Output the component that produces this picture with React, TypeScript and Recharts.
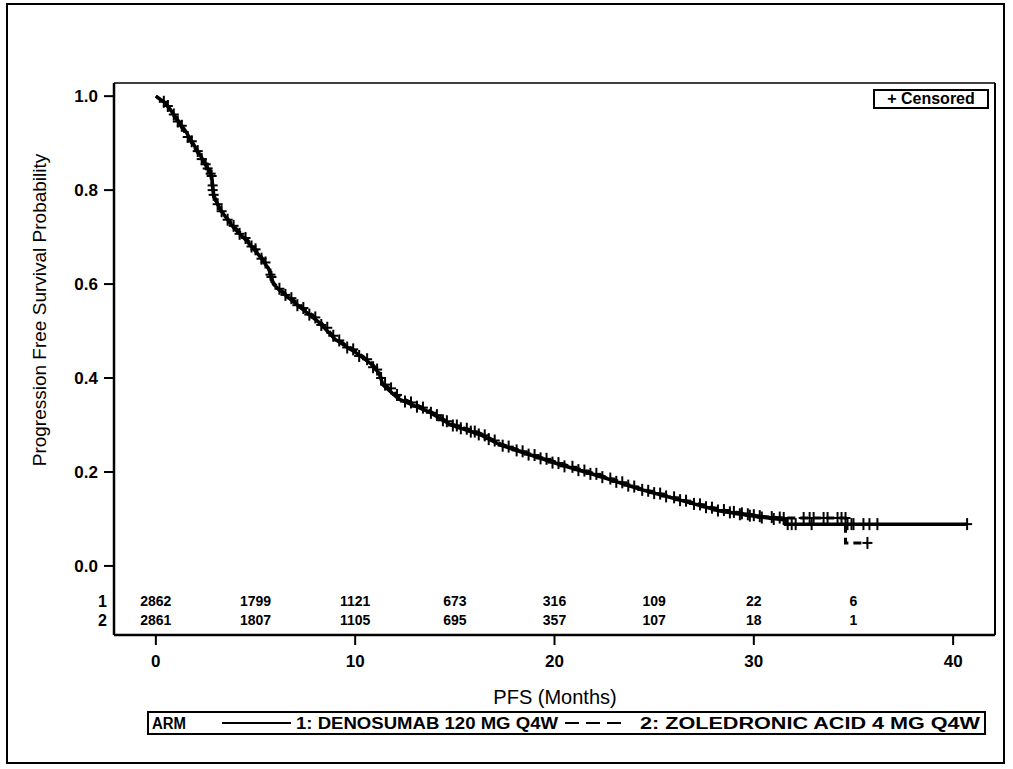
import { ComposedChart, Line, Scatter, XAxis, YAxis, ReferenceLine } from "recharts"

const FONT = '"Liberation Sans", Arial, Helvetica, sans-serif'

const armLabels = ["1: DENOSUMAB 120 MG Q4W", "2: ZOLEDRONIC ACID 4 MG Q4W"]
const xTicks = [0, 10, 20, 30, 40]
const yTicks = [0, 0.2, 0.4, 0.6, 0.8, 1.0]

// number at risk
const riskTimes = [0, 5, 10, 15, 20, 25, 30, 35]
const riskArm1 = [2862, 1799, 1121, 673, 316, 109, 22, 6]
const riskArm2 = [2861, 1807, 1105, 695, 357, 107, 18, 1]

// KM curves [months, survival]
const curveArm1: [number, number][] = [
  [0, 1.0], [0.5, 0.985], [1.0, 0.955], [1.5, 0.925], [2.0, 0.89], [2.5, 0.855],
  [2.8, 0.83], [2.9, 0.79], [3.2, 0.76], [3.9, 0.72], [4.6, 0.69], [5.2, 0.66],
  [5.7, 0.63], [5.9, 0.6], [6.2, 0.587], [7.2, 0.552], [8.2, 0.518], [9.0, 0.482],
  [10.0, 0.455], [10.8, 0.43], [11.2, 0.41], [11.4, 0.385], [12.2, 0.355],
  [13.7, 0.328], [14.8, 0.3], [16.3, 0.279], [17.3, 0.257], [18.8, 0.236],
  [20.3, 0.215], [22.3, 0.19], [24.3, 0.163], [26.3, 0.14], [28.3, 0.117],
  [30.3, 0.104], [31.6, 0.098], [31.6, 0.089], [40.7, 0.089],
]
const curveArm2: [number, number][] = [
  [0, 1.0], [0.5, 0.983], [1.0, 0.952], [1.5, 0.92], [2.0, 0.886], [2.5, 0.852],
  [2.75, 0.835], [2.9, 0.785], [3.3, 0.755], [3.9, 0.724], [4.6, 0.694], [5.2, 0.664],
  [5.6, 0.64], [5.85, 0.605], [6.2, 0.59], [7.2, 0.556], [8.2, 0.522], [9.0, 0.485],
  [10.0, 0.458], [10.8, 0.433], [11.2, 0.413], [11.4, 0.39], [12.2, 0.36],
  [13.7, 0.331], [14.8, 0.303], [16.3, 0.282], [17.3, 0.26], [18.8, 0.238],
  [20.3, 0.218], [22.3, 0.193], [24.3, 0.165], [26.3, 0.142], [28.3, 0.12],
  [30.3, 0.106], [31.5, 0.102], [34.6, 0.102], [34.6, 0.049], [35.7, 0.049],
]

// censored observations [months, survival]
const censorArm1: [number, number][] = [
  [0.4, 0.988], [0.9, 0.961], [1.3, 0.937], [1.8, 0.904], [2.1, 0.883], [2.5, 0.855],
  [2.8, 0.83], [2.85, 0.81], [2.9, 0.79], [3.1, 0.77], [3.6, 0.737], [4.2, 0.707],
  [4.8, 0.68], [5.3, 0.654], [5.8, 0.615], [6.5, 0.577], [7.1, 0.555], [7.7, 0.535],
  [8.3, 0.513], [8.9, 0.49], [9.6, 0.465], [10.2, 0.447], [10.9, 0.423], [11.3, 0.4],
  [11.8, 0.378], [12.5, 0.35], [13.1, 0.339], [13.8, 0.326], [14.4, 0.31], [14.9, 0.299],
  [15.3, 0.293], [15.8, 0.286], [16.2, 0.28], [16.7, 0.27], [17.4, 0.256], [18.1, 0.246],
  [18.7, 0.237], [19.3, 0.229], [19.9, 0.22], [20.5, 0.212], [21.2, 0.204], [21.8, 0.196],
  [22.4, 0.189], [23.1, 0.179], [23.7, 0.171], [24.4, 0.162], [25.0, 0.155], [25.6, 0.148],
  [26.3, 0.14], [27.0, 0.132], [27.6, 0.125], [28.2, 0.118], [28.8, 0.114], [29.3, 0.11],
  [29.8, 0.107], [30.4, 0.103], [31.0, 0.1], [31.7, 0.089], [31.9, 0.089], [32.1, 0.089],
  [32.9, 0.089], [34.7, 0.089], [34.9, 0.089], [35.0, 0.089], [35.5, 0.089], [35.8, 0.089],
  [36.2, 0.089], [40.7, 0.089],
]
const censorArm2: [number, number][] = [
  [0.6, 0.979], [1.1, 0.946], [1.6, 0.913], [2.3, 0.866], [2.6, 0.846], [2.75, 0.835],
  [2.85, 0.8], [3.3, 0.755], [3.9, 0.724], [4.5, 0.698], [5.0, 0.674], [5.5, 0.646],
  [5.75, 0.62], [6.2, 0.59], [6.8, 0.57], [7.4, 0.549], [8.0, 0.529], [8.6, 0.507],
  [9.2, 0.48], [9.9, 0.461], [10.6, 0.44], [11.1, 0.418], [11.5, 0.386], [12.1, 0.364],
  [12.8, 0.348], [13.4, 0.337], [14.1, 0.321], [14.6, 0.308], [15.1, 0.299], [15.6, 0.292],
  [16.0, 0.286], [16.5, 0.278], [17.0, 0.267], [17.7, 0.254], [18.4, 0.244], [19.0, 0.236],
  [19.6, 0.228], [20.2, 0.219], [20.9, 0.211], [21.5, 0.203], [22.1, 0.196], [22.8, 0.186],
  [23.4, 0.178], [24.0, 0.169], [24.7, 0.16], [25.3, 0.154], [26.0, 0.146], [26.6, 0.139],
  [27.3, 0.131], [27.9, 0.124], [28.5, 0.119], [29.0, 0.115], [29.4, 0.112], [29.7, 0.11],
  [30.0, 0.108], [30.3, 0.106], [30.9, 0.104], [31.3, 0.103], [31.5, 0.102], [32.5, 0.102],
  [32.8, 0.102], [33.0, 0.102], [33.5, 0.102], [33.7, 0.102], [34.2, 0.102], [34.4, 0.102],
  [34.6, 0.102], [35.7, 0.049],
]

const X_DOMAIN: [number, number] = [-2.1, 42.1]
const Y_DOMAIN: [number, number] = [-0.147, 1.028]
// vertical placement of the two at-risk rows (in y-axis units, below 0)
const ROW_Y = [-0.0745, -0.115]

const toPts = (arr: [number, number][]) => arr.map(([t, s]) => ({ t, s }))
const riskData = (counts: number[], row: number) =>
  riskTimes.map((t, i) => ({ t, s: ROW_Y[row], n: counts[i] }))

const CensorMark = (props: any) => {
  const { cx, cy } = props
  if (cx == null || cy == null) return null
  return (
    <g stroke="#000" strokeWidth={2}>
      <line x1={cx} x2={cx} y1={cy - 6} y2={cy + 6} />
      <line x1={cx - 5} x2={cx + 5} y1={cy} y2={cy} />
    </g>
  )
}

const RiskText = (props: any) => {
  const { cx, cy, payload } = props
  return (
    <text x={cx} y={cy + 5} textAnchor="middle" fontFamily={FONT} fontWeight="bold" fontSize={14} fill="#000">
      {payload.n}
    </text>
  )
}

const YTick = (props: any) => {
  const { x, y, payload } = props
  const row = ROW_Y.indexOf(payload.value)
  if (row >= 0) {
    return (
      <text x={x - 7} y={y + 6} textAnchor="end" fontFamily={FONT} fontWeight="bold" fontSize={16} fill="#000">
        {row + 1}
      </text>
    )
  }
  return (
    <g>
      <line x1={x - 10} x2={x} y1={y} y2={y} stroke="#000" strokeWidth={2} />
      <text x={x - 16} y={y + 6} textAnchor="end" fontFamily={FONT} fontWeight="bold" fontSize={17} fill="#000">
        {payload.value.toFixed(1)}
      </text>
    </g>
  )
}

export default function App() {
  return (
    <div style={{ position: "absolute", left: 0, top: 0, width: 1013, height: 769, background: "#fff", fontFamily: FONT }}>
      <ComposedChart
        width={1013}
        height={769}
        margin={{ top: 83, right: 18, left: 50, bottom: 64 }}
      >
        <XAxis
          type="number"
          dataKey="t"
          domain={X_DOMAIN}
          allowDataOverflow
          ticks={xTicks}
          height={70}
          tickSize={10}
          tickMargin={10}
          axisLine={{ stroke: "#000", strokeWidth: 2.5 }}
          tickLine={{ stroke: "#000", strokeWidth: 2 }}
          tick={{ fill: "#000", fontSize: 17, fontWeight: "bold", fontFamily: FONT }}
        />
        <YAxis
          type="number"
          domain={Y_DOMAIN}
          allowDataOverflow
          ticks={[...ROW_Y, ...yTicks]}
          width={64}
          tickSize={0}
          tickMargin={0}
          tickLine={false}
          axisLine={{ stroke: "#000", strokeWidth: 2.5 }}
          tick={<YTick />}
          interval={0}
        />
        <ReferenceLine y={Y_DOMAIN[1]} stroke="#000" strokeWidth={1.5} />
        <ReferenceLine x={X_DOMAIN[1]} stroke="#000" strokeWidth={2} />
        <Line
          data={toPts(curveArm1)}
          dataKey="s"
          type="linear"
          stroke="#000"
          strokeWidth={3.5}
          dot={false}
          activeDot={false}
          isAnimationActive={false}
        />
        <Line
          data={toPts(curveArm2)}
          dataKey="s"
          type="linear"
          stroke="#000"
          strokeWidth={3}
          strokeDasharray="8 5"
          dot={false}
          activeDot={false}
          isAnimationActive={false}
        />
        <Scatter data={toPts(censorArm1)} dataKey="s" shape={<CensorMark />} isAnimationActive={false} />
        <Scatter data={toPts(censorArm2)} dataKey="s" shape={<CensorMark />} isAnimationActive={false} />
        <Scatter data={riskData(riskArm1, 0)} dataKey="s" shape={<RiskText />} isAnimationActive={false} />
        <Scatter data={riskData(riskArm2, 1)} dataKey="s" shape={<RiskText />} isAnimationActive={false} />
      </ComposedChart>

      {/* outer frame */}
      <div style={{ position: "absolute", left: 6, top: 3, width: 999, height: 761, border: "2px solid #000", boxSizing: "border-box", pointerEvents: "none" }} />

      {/* y-axis title */}
      <div style={{ position: "absolute", left: 40, top: 310, transform: "translate(-50%, -50%) rotate(-90deg)", whiteSpace: "nowrap", fontSize: 19, color: "#000" }}>
        Progression Free Survival Probability
      </div>

      {/* x-axis title */}
      <div style={{ position: "absolute", left: 555, top: 697, transform: "translate(-50%, -50%)", whiteSpace: "nowrap", fontSize: 20, color: "#000" }}>
        PFS (Months)
      </div>

      {/* censored legend */}
      <div style={{ position: "absolute", left: 873, top: 89, width: 116, height: 20, border: "2px solid #000", boxSizing: "border-box", fontSize: 16, fontWeight: "bold", lineHeight: "16px", textAlign: "center", whiteSpace: "nowrap", background: "#fff" }}>
        + Censored
      </div>

      {/* arm legend */}
      <svg style={{ position: "absolute", left: 0, top: 0, pointerEvents: "none" }} width={1013} height={769}>
        <rect x={148} y={712} width={837} height={22} fill="none" stroke="#000" strokeWidth={2} />
        <g fontFamily={FONT} fontSize={16} fontWeight="bold" fill="#000">
          <text x={152} y={729} textLength={34} lengthAdjust="spacingAndGlyphs">ARM</text>
          <line x1={222} x2={291} y1={723} y2={723} stroke="#000" strokeWidth={2} />
          <text x={296} y={729} textLength={262} lengthAdjust="spacingAndGlyphs">{armLabels[0]}</text>
          <line x1={565} x2={628} y1={723} y2={723} stroke="#000" strokeWidth={2} strokeDasharray="14 7" />
          <text x={640} y={729} textLength={340} lengthAdjust="spacingAndGlyphs">{armLabels[1]}</text>
        </g>
      </svg>
    </div>
  )
}
